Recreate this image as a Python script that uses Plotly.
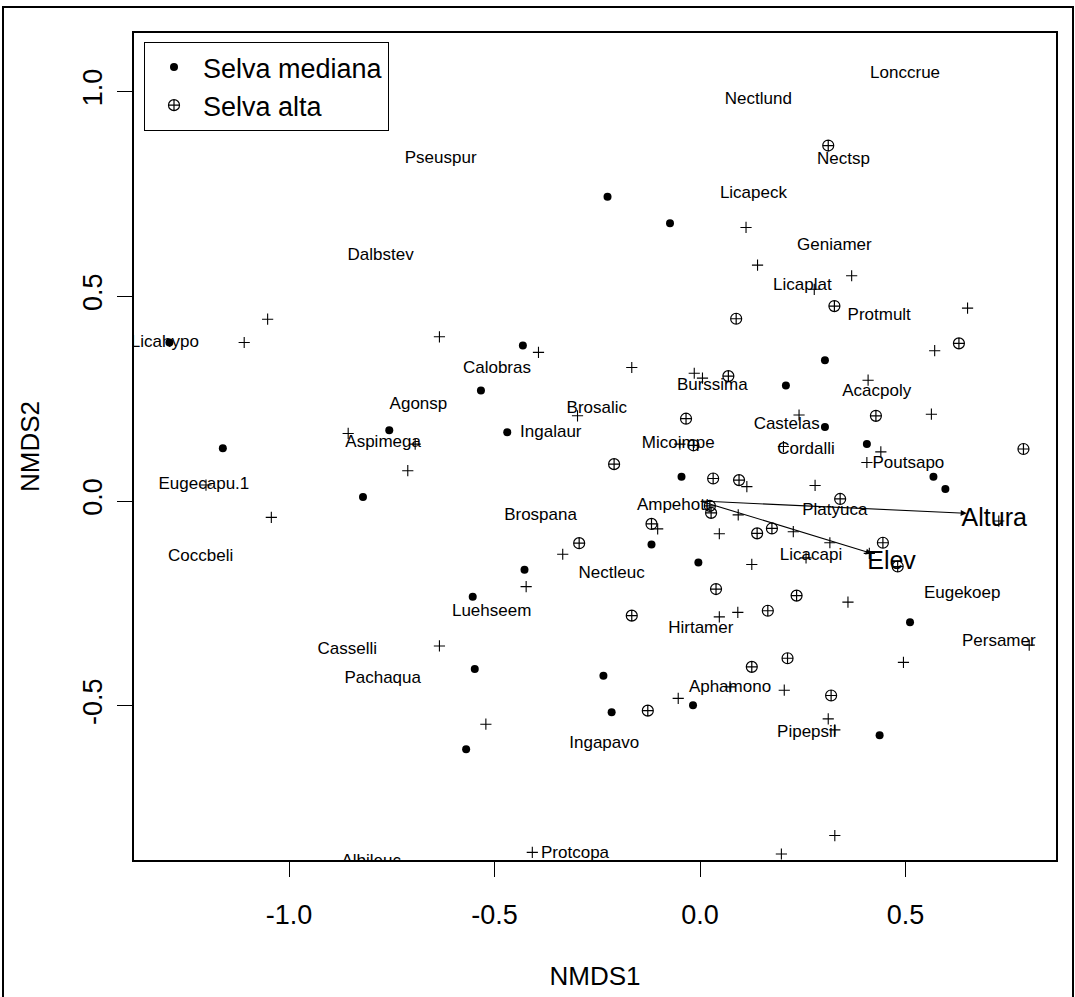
import plotly.graph_objects as go

# ---- Sites: Selva mediana (filled dots) ----
med_x = [-1.291, -1.161, -0.820, -0.756, -0.533, -0.431, -0.469, -0.225, -0.073, 0.304,
         0.209, 0.304, 0.406, 0.568, 0.597, -0.045, -0.118, -0.004, -0.427, -0.553,
         -0.548, -0.569, -0.235, -0.215, -0.017, 0.511, 0.437]
med_y = [0.387, 0.129, 0.010, 0.173, 0.270, 0.380, 0.168, 0.743, 0.678, 0.344,
         0.282, 0.181, 0.139, 0.059, 0.029, 0.059, -0.106, -0.150, -0.168, -0.234,
         -0.410, -0.606, -0.427, -0.516, -0.499, -0.296, -0.572]

# ---- Sites: Selva alta (circle with cross) ----
alta_x = [0.312, 0.327, 0.088, 0.069, -0.034, 0.428, 0.630, 0.787, -0.016, -0.209,
          0.032, 0.095, 0.341, 0.024, 0.027, -0.118, -0.294, 0.139, 0.175, 0.445,
          0.481, 0.039, 0.235, 0.165, -0.166, 0.213, 0.126, 0.319, -0.127]
alta_y = [0.868, 0.476, 0.445, 0.305, 0.201, 0.208, 0.385, 0.127, 0.136, 0.090,
          0.055, 0.051, 0.005, -0.012, -0.029, -0.056, -0.103, -0.079, -0.067, -0.102,
          -0.160, -0.215, -0.231, -0.268, -0.280, -0.384, -0.405, -0.475, -0.512]

# ---- Species without room for a label (+) ----
sp_x = [-1.052, -1.109, -0.634, -0.393, -0.166, -0.014, 0.006, 0.112, 0.140, 0.369,
        0.651, 0.571, 0.409, 0.563, 0.241, -0.298, -0.856, -0.693, -0.711, -1.202,
        -1.043, -0.049, 0.203, 0.440, 0.406, 0.280, 0.114, 0.093, -0.103, 0.047,
        0.227, 0.316, 0.412, -0.334, 0.126, 0.258, 0.727, -0.423, 0.047, 0.092,
        0.360, -0.634, 0.801, 0.495, -0.521, -0.053, 0.073, 0.205, 0.312, 0.328,
        0.328, -0.408, 0.198, 0.278]
sp_y = [0.444, 0.387, 0.401, 0.363, 0.326, 0.312, 0.300, 0.668, 0.576, 0.550,
        0.471, 0.367, 0.295, 0.212, 0.210, 0.208, 0.165, 0.139, 0.074, 0.039,
        -0.040, 0.139, 0.133, 0.120, 0.094, 0.038, 0.035, -0.034, -0.068, -0.080,
        -0.075, -0.102, -0.128, -0.130, -0.155, -0.139, -0.049, -0.209, -0.283, -0.272,
        -0.247, -0.354, -0.352, -0.394, -0.545, -0.482, -0.454, -0.462, -0.532, -0.559,
        -0.817, -0.858, -0.862, 0.517]

# ---- Labelled species ----
lab_names = ["Lonccrue", "Nectlund", "Pseuspur", "Nectsp", "Licapeck", "Geniamer", "Dalbstev",
             "Licaplat", "Protmult", "Licahypo", "Calobras", "Burssima", "Acacpoly", "Agonsp",
             "Brosalic", "Castelas", "Ingalaur", "Aspimega", "Micoimpe", "Cordalli", "Poutsapo",
             "Eugecapu.1", "Ampehott", "Platyuca", "Brospana", "Licacapi", "Coccbeli", "Nectleuc",
             "Eugekoep", "Luehseem", "Hirtamer", "Persamer", "Casselli", "Pachaqua", "Aphamono",
             "Pipepsil", "Ingapavo", "Protcopa", "Albileuc"]
lab_x = [0.499, 0.142, -0.631, 0.349, 0.130, 0.327, -0.777, 0.249, 0.436, -1.302,
         -0.494, 0.030, 0.430, -0.685, -0.251, 0.211, -0.363, -0.771, -0.053, 0.258,
         0.507, -1.207, -0.065, 0.328, -0.388, 0.270, -1.215, -0.215, 0.638, -0.507,
         0.002, 0.727, -0.858, -0.772, 0.073, 0.260, -0.233, -0.304, -0.800]
lab_y = [1.044, 0.979, 0.835, 0.833, 0.751, 0.623, 0.598, 0.526, 0.452, 0.387,
         0.324, 0.282, 0.267, 0.234, 0.225, 0.185, 0.167, 0.143, 0.139, 0.125,
         0.090, 0.039, -0.011, -0.024, -0.036, -0.134, -0.137, -0.177, -0.227, -0.270,
         -0.313, -0.344, -0.364, -0.433, -0.455, -0.567, -0.593, -0.862, -0.882]

# ---- Environmental vectors (envfit) ----
env_names = ["Altura", "Elev"]
env_x = [0.649, 0.418]
env_y = [-0.030, -0.128]
env_lab_x = [0.716, 0.466]
env_lab_y = [-0.046, -0.152]

FONT = "Liberation Sans, Arial, sans-serif"

fig = go.Figure()

fig.add_trace(go.Scatter(
    x=lab_x, y=lab_y, mode="text", text=lab_names, textposition="middle center",
    textfont=dict(family=FONT, size=17, color="black"), showlegend=False, hoverinfo="skip"))

fig.add_trace(go.Scatter(
    x=sp_x, y=sp_y, mode="markers", showlegend=False,
    marker=dict(symbol="cross-thin-open", size=8, color="black", line=dict(color="black", width=1.1))))

fig.add_trace(go.Scatter(
    x=med_x, y=med_y, mode="markers", name="Selva mediana",
    marker=dict(symbol="circle", size=8, color="black", line=dict(width=0))))

fig.add_trace(go.Scatter(
    x=alta_x, y=alta_y, mode="markers", name="Selva alta",
    marker=dict(symbol="circle-cross-open", size=11, color="black", line=dict(color="black", width=1.2))))

# envfit arrows
for i in range(len(env_names)):
    fig.add_annotation(x=env_x[i], y=env_y[i], ax=0, ay=0, xref="x", yref="y",
                       axref="x", ayref="y", showarrow=True, arrowhead=2, arrowsize=1.1,
                       arrowwidth=1.1, arrowcolor="black", text="")
fig.add_trace(go.Scatter(
    x=env_lab_x, y=env_lab_y, mode="text", text=env_names, textposition="middle center",
    textfont=dict(family=FONT, size=25, color="black"), showlegend=False, hoverinfo="skip"))

W, H = 1075, 997
L, R, T, B = 134, 1056, 33, 860
pw, ph = R - L, B - T

fig.update_layout(
    width=W, height=H,
    margin=dict(l=L, r=W - R, t=T, b=H - B),
    paper_bgcolor="white", plot_bgcolor="white",
    font=dict(family=FONT, color="black"),
    showlegend=True,
    legend=dict(x=(144 - L) / pw, y=1 - (42 - T) / ph, xanchor="left", yanchor="top",
                bgcolor="white", bordercolor="black", borderwidth=1,
                font=dict(family=FONT, size=27, color="black"),
                itemwidth=48, tracegroupgap=0),
    shapes=[dict(type="rect", xref="paper", yref="paper",
                 x0=(3 - L) / pw, x1=(1073 - L) / pw,
                 y0=-(1010 - B) / ph, y1=1 + (T - 7) / ph,
                 line=dict(color="black", width=2), fillcolor="rgba(0,0,0,0)", layer="below")],
)

fig.update_xaxes(range=[(L - 700) / 411, (R - 700) / 411], showgrid=False, zeroline=False,
                 showline=True, mirror=True, linecolor="black", linewidth=1.5,
                 ticks="outside", ticklen=15, tickcolor="black", tickwidth=1,
                 tickvals=[-1.0, -0.5, 0.0, 0.5], ticktext=["-1.0", "-0.5", "0.0", "0.5"],
                 tickfont=dict(family=FONT, size=27, color="black"), ticklabelstandoff=15,
                 title=dict(text="NMDS1", font=dict(family=FONT, size=26, color="black"), standoff=38))
fig.update_yaxes(range=[(501 - B) / 409.5, (501 - T) / 409.5], showgrid=False, zeroline=False,
                 showline=True, mirror=True, linecolor="black", linewidth=1.5,
                 ticks="outside", ticklen=15, tickcolor="black", tickwidth=1,
                 tickvals=[-0.5, 0.0, 0.5, 1.0], ticktext=["-0.5", "0.0", "0.5", "1.0"],
                 tickangle=-90,
                 tickfont=dict(family=FONT, size=27, color="black"), ticklabelstandoff=4,
                 title=dict(text="NMDS2", font=dict(family=FONT, size=26, color="black"), standoff=31))

fig.write_html("out.html")
